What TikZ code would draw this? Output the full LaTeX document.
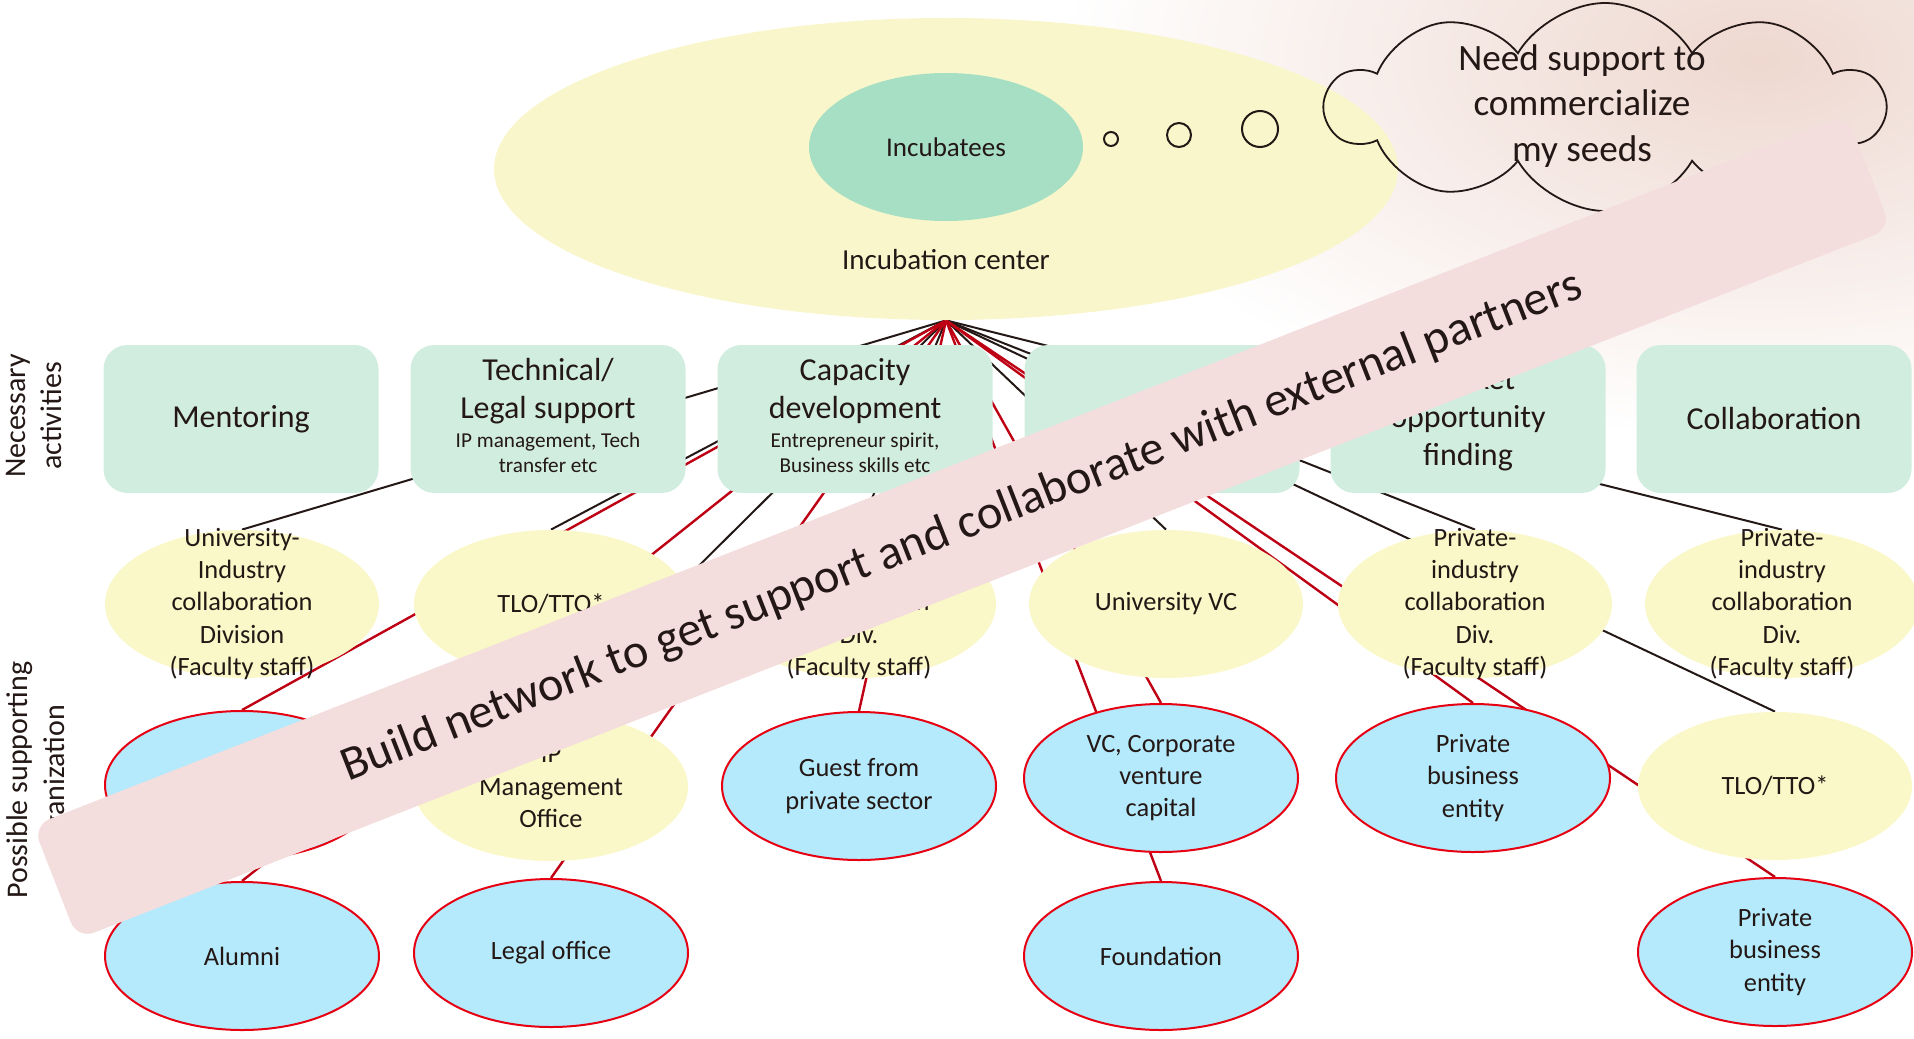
\documentclass[tikz,border=0pt]{standalone}
\usepackage{fontspec}
\setmainfont{Carlito}
\usepackage{tikz}
\usetikzlibrary{shapes,shapes.geometric,shapes.symbols,backgrounds}
\definecolor{ink}{RGB}{35,24,21}
\definecolor{cream}{RGB}{249,246,203}
\definecolor{ylw}{RGB}{250,247,200}
\definecolor{mint}{RGB}{166,223,196}
\definecolor{pale}{RGB}{209,237,224}
\definecolor{sky}{RGB}{180,234,252}
\definecolor{rim}{RGB}{230,0,18}
\definecolor{wire}{RGB}{190,0,20}
\definecolor{rose}{RGB}{244,221,221}
\definecolor{photo}{RGB}{238,216,208}
\newcommand{\subtxt}[1]{\\[-4.5pt]{\fontsize{10.6}{12.2}\selectfont\begin{tabular}[t]{@{}c@{}}#1\end{tabular}}}

\begin{document}
\begin{tikzpicture}[x=0.5pt,y=-0.5pt,every node/.style={text=ink},
	lbl/.style={font=\fontsize{13.2}{16.2}\selectfont,align=center},
	txt/.style={label={[lbl]center:{#1}}},
	intorg/.style={ellipse,fill=ylw,minimum width=137pt,minimum height=74pt,inner sep=0pt},
	extorg/.style={ellipse,draw=rim,line width=1pt,fill=sky,minimum width=137pt,minimum height=74pt,inner sep=0pt},
	activity/.style={rectangle,rounded corners=12pt,fill=pale,minimum width=137.5pt,minimum height=74pt,inner sep=0pt,align=center,font=\fontsize{16}{19}\selectfont},
	tie/.style={ink,line width=1pt},
	redtie/.style={wire,line width=1.2pt},
	side/.style={rotate=90,align=center,font=\fontsize{15}{18.3}\selectfont}]
	\useasboundingbox (0,0) rectangle (1914,1038);
	\node[ellipse,fill=cream,minimum width=452pt,minimum height=151pt] (ic) at (946,169) {};
	\node[ellipse,fill=mint,minimum width=137pt,minimum height=74pt,font=\fontsize{13.5}{16}\selectfont] (inc) at (946,147) {Incubatees};
	\node[font=\fontsize{14.5}{17}\selectfont] (icl) at (946,260) {Incubation center};
	\node[circle,draw=ink,line width=1pt,minimum size=7pt,inner sep=0pt] (d1) at (1111,139) {};
	\node[circle,draw=ink,line width=1pt,minimum size=12pt,inner sep=0pt] (d2) at (1179,135) {};
	\node[circle,draw=ink,line width=1pt,minimum size=18pt,inner sep=0pt] (d3) at (1260,129) {};
	\node[cloud,draw=ink,line width=0.9pt,cloud puffs=10,cloud puff arc=120,aspect=2.8,minimum width=278pt,minimum height=104pt,inner sep=0pt] (cl) at (1605,107) {};
	\node[font=\fontsize{18.6}{22.9}\selectfont,align=center] (clt) at (1582,106) {Need support to\\commercialize\\my seeds};

	\node[side] (na) at (34,416) {Necessary\\activities};
	\node[side] (ps) at (38,780) {Possible supporting\\organization};

	\node[activity] (m1) at (241,419) {Mentoring};
	\node[activity] (m2) at (548,419) {Technical/\\Legal support\subtxt{IP management, Tech\\transfer etc}};
	\node[activity] (m3) at (855,419) {Capacity\\development\subtxt{Entrepreneur spirit,\\Business skills etc}};
	\node[activity] (m4) at (1162,419) {};
	\node[activity] (m5) at (1468,419) {Market\\opportunity\\finding};
	\node[activity] (m6) at (1774,419) {Collaboration};

	\node[intorg,txt={University-\\Industry\\collaboration\\Division\\(Faculty staff)}] (y1) at (242,604) {};
	\node[intorg,txt={TLO/TTO*}] (y2) at (551,604) {};
	\node[intorg,txt={University-\\Industry\\collaboration\\Div.\\(Faculty staff)}] (y3) at (859,604) {};
	\node[intorg,txt={University VC}] (y4) at (1166,604) {};
	\node[intorg,txt={Private-\\industry\\collaboration\\Div.\\(Faculty staff)}] (y5) at (1475,604) {};
	\node[intorg,txt={Private-\\industry\\collaboration\\Div.\\(Faculty staff)}] (y6) at (1782,604) {};

	\node[extorg] (b1) at (242,785) {};
	\node[intorg,txt={IP\\Management\\Office}] (y7) at (551,787) {};
	\node[extorg,txt={Guest from\\private sector}] (b2) at (859,786) {};
	\node[extorg,txt={VC, Corporate\\venture\\capital}] (b3) at (1161,778) {};
	\node[extorg,txt={Private\\business\\entity}] (b4) at (1473,778) {};
	\node[intorg,txt={TLO/TTO*}] (y8) at (1775,786) {};

	\node[extorg,txt={Alumni}] (b5) at (242,956) {};
	\node[extorg,txt={Legal office}] (b6) at (551,953) {};
	\node[extorg,txt={Foundation}] (b7) at (1161,956) {};
	\node[extorg,txt={Private\\business\\entity}] (b8) at (1775,952) {};

	\begin{scope}[on background layer]
		\shade[inner color=photo,outer color=white] (1760,60) ellipse (700 and 380);
		\foreach \n in {y1,y2,y3,y4,y5,y6,y7,y8}
			\draw[tie] (ic.south) -- (\n.north);
		\foreach \n in {b1,b2,b3,b4,b5,b6,b7,b8}
			\draw[redtie] (ic.south) -- (\n.north);
	\end{scope}

	\node[rotate=21.4,fill=rose,rounded corners=9pt,minimum width=974pt,minimum height=61pt,font=\fontsize{24.2}{29}\selectfont] (bn) at (962,527) {Build network to get support and collaborate with external partners};
\end{tikzpicture}
\end{document}
